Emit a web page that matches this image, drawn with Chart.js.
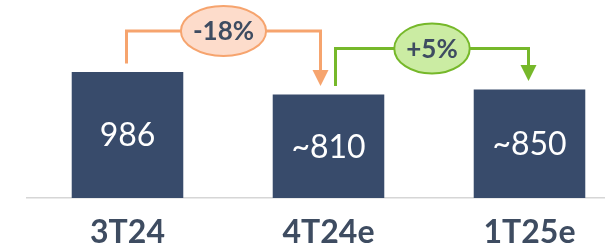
<!DOCTYPE html>
<html>
<head>
<meta charset="utf-8">
<script src="https://cdn.jsdelivr.net/npm/chart.js@4/dist/chart.umd.min.js"></script>
<style>
  html, body { margin: 0; padding: 0; background: #fff; overflow: hidden; }
  #wrap { width: 605px; height: 248px; overflow: hidden; }
</style>
</head>
<body>
<div id="wrap"><canvas id="grafico" width="630" height="248"></canvas></div>
<script>
const categorias = ['3T24', '4T24e', '1T25e']
const valores = [986, 810, 850]
const etiquetasValor = ['986', '~810', '~850']
// variaciones entre barras: [desde, hasta, texto]
const variaciones = [[0, 1, '-18%'], [1, 2, '+5%']]

const colorBarra = '#384b6b'
const colorTexto = '#3e4c61'
const estilos = [
  { linea: '#f6a46e', relleno: '#fddccb' },
  { linea: '#76b82a', relleno: '#cbeca3' }
]

const pluginAnotaciones = {
  id: 'anotaciones',
  afterDatasetsDraw(chart) {
    const ctx = chart.ctx
    const barras = chart.getDatasetMeta(0).data

    // valores dentro de las barras
    ctx.save()
    ctx.fillStyle = '#ffffff'
    ctx.font = '32px Lato'
    ctx.textAlign = 'center'
    ctx.textBaseline = 'middle'
    barras.forEach((b, i) => {
      ctx.fillText(etiquetasValor[i], b.x, (b.y + b.base) / 2 + 1)
    })
    ctx.restore()

    // flechas de variacion
    variaciones.forEach((v, k) => {
      const desde = barras[v[0]]
      const hasta = barras[v[1]]
      const est = estilos[k]
      const entra = variaciones.some(o => o[1] === v[0])
      const sale = variaciones.some(o => o[0] === v[1])
      const x1 = desde.x + (entra ? 7 : -1)
      const x2 = hasta.x + (sale ? -8 : -1)
      const y1 = desde.y - 8.5
      const y2 = hasta.y - 8.5
      const nivel = Math.min(desde.y, hasta.y) - 41

      ctx.save()
      ctx.strokeStyle = est.linea
      ctx.fillStyle = est.linea
      ctx.lineWidth = 3
      ctx.lineJoin = 'miter'
      ctx.beginPath()
      ctx.moveTo(x1, y1)
      ctx.lineTo(x1, nivel)
      ctx.lineTo(x2, nivel)
      ctx.lineTo(x2, y2 - 15)
      ctx.stroke()
      ctx.beginPath()
      ctx.moveTo(x2 - 8, y2 - 16)
      ctx.lineTo(x2 + 8, y2 - 16)
      ctx.lineTo(x2, y2)
      ctx.closePath()
      ctx.fill()

      ctx.font = 'bold 26px Lato'
      const ancho = ctx.measureText(v[2]).width
      const cx = (x1 + x2) / 2
      ctx.beginPath()
      ctx.ellipse(cx, nivel, ancho / 2 + 12, 25, 0, 0, Math.PI * 2)
      ctx.fillStyle = est.relleno
      ctx.fill()
      ctx.lineWidth = 2
      ctx.stroke()
      ctx.fillStyle = colorTexto
      ctx.textAlign = 'center'
      ctx.textBaseline = 'middle'
      ctx.fillText(v[2], cx, nivel + 1)
      ctx.restore()
    })
  }
}

const ctx = document.getElementById('grafico').getContext('2d')
const chart = new Chart(ctx, {
  type: 'bar',
  data: {
    labels: categorias,
    datasets: [{
      data: valores,
      backgroundColor: colorBarra,
      barPercentage: 0.555,
      categoryPercentage: 1
    }]
  },
  options: {
    responsive: false,
    animation: false,
    devicePixelRatio: 1,
    layout: { padding: { left: 27, right: 0, top: 0, bottom: -20 } },
    plugins: { legend: { display: false }, tooltip: { enabled: false } },
    scales: {
      x: {
        grid: { display: false, drawTicks: false, tickLength: 0 },
        border: { display: true, color: '#d6d6d6', width: 1.5 },
        ticks: {
          color: colorTexto,
          padding: 19,
          font: { family: 'Lato', size: 32, weight: 'bold', lineHeight: 1 }
        }
      },
      y: {
        display: false,
        min: 0,
        max: 1550
      }
    }
  },
  plugins: [pluginAnotaciones]
})
</script>
</body>
</html>
